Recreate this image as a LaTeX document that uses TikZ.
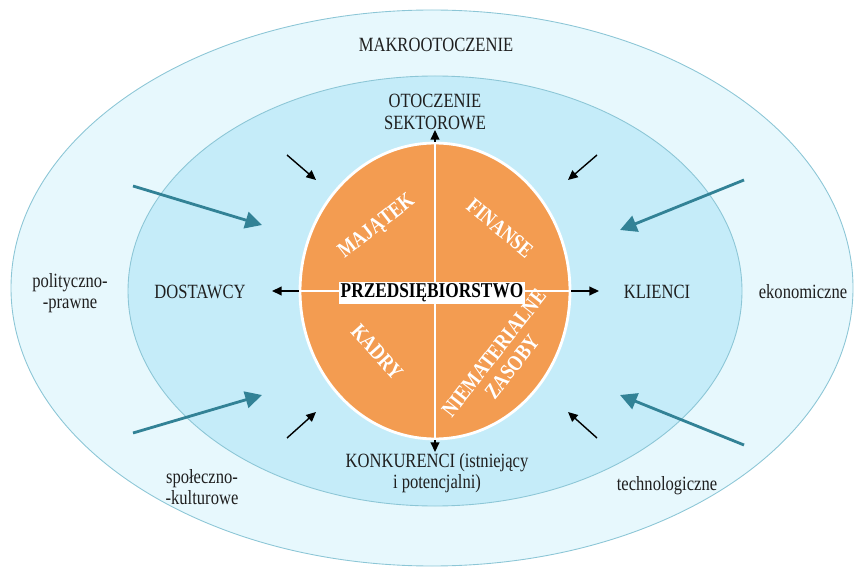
\documentclass[tikz,border=0pt]{standalone}
\usepackage{fontspec}
\setmainfont{Liberation Serif}[FakeStretch=0.82]
\usetikzlibrary{arrows.meta,shapes.geometric,positioning}

\definecolor{makro}{RGB}{231,248,253}
\definecolor{sektor}{RGB}{197,236,249}
\definecolor{rim}{RGB}{140,198,214}
\definecolor{firma}{RGB}{243,156,81}
\definecolor{nurt}{RGB}{50,130,150}

\begin{document}
\begin{tikzpicture}[x=0.02cm,y=-0.02cm,
  lbl/.style={font=\fontsize{11.5}{12}\selectfont,align=center,text=black!88},
  part/.style={font=\fontsize{12.5}{13}\selectfont\bfseries,text=white,align=center},
  small/.style={-{Triangle[length=5.5pt,width=5pt]},line width=0.8pt},
  big/.style={-{Triangle[length=9.5pt,width=9.5pt]},line width=1.6pt,draw=nurt,fill=nurt}]
  \useasboundingbox (0,0) rectangle (854,567);

  % rings
  \draw[fill=makro, draw=rim, line width=0.5pt] (432,288) ellipse [x radius=421, y radius=278];
  \draw[fill=sektor, draw=rim, line width=0.5pt] (435,291) ellipse [x radius=307, y radius=215];

  % macro forces
  \coordinate (pol0) at (133,186);  \coordinate (pol1) at (262,225);
  \coordinate (spo0) at (133,433);  \coordinate (spo1) at (262,395);
  \coordinate (eko0) at (744,180);  \coordinate (eko1) at (620,230);
  \coordinate (tec0) at (744,445);  \coordinate (tec1) at (620,395);
  \draw[big] (pol0) -- (pol1);
  \draw[big] (spo0) -- (spo1);
  \draw[big] (eko0) -- (eko1);
  \draw[big] (tec0) -- (tec1);

  % sector forces
  \coordinate (nw0) at (287,155);  \coordinate (nw1) at (316,180);
  \coordinate (ne0) at (597,155);  \coordinate (ne1) at (568,180);
  \coordinate (sw0) at (287,438);  \coordinate (sw1) at (316,412);
  \coordinate (se0) at (597,438);  \coordinate (se1) at (568,412);
  \draw[small] (nw0) -- (nw1);
  \draw[small] (ne0) -- (ne1);
  \draw[small] (sw0) -- (sw1);
  \draw[small] (se0) -- (se1);

  % enterprise
  \node[ellipse, fill=firma, draw=white, line width=1.6pt, inner sep=0,
        minimum width=5.4cm, minimum height=5.92cm] (firm) at (435,291) {};
  \draw[white, line width=1.2pt] (firm.north) -- (firm.south);
  \draw[white, line width=1.2pt] (firm.west) -- (firm.east);

  \coordinate (up)    at (435,130);
  \coordinate (down)  at (435,452);
  \coordinate (left)  at (272,291);
  \coordinate (right) at (599,291);
  \draw[small] (firm.north) -- (up);
  \draw[small] (firm.south) -- (down);
  \draw[small] (firm.west) -- (left);
  \draw[small] (firm.east) -- (right);

  \node[fill=white, inner sep=1.2pt, font=\fontsize{12}{13}\selectfont\bfseries]
    (przed) at (432,293) {PRZEDSIĘBIORSTWO};
  \node[part, rotate=38]  (maj) at (377,227) {MAJĄTEK};
  \node[part, rotate=-40] (fin) at (500,228) {FINANSE};
  \node[part, rotate=-48] (kad) at (377,352) {KADRY};
  \node[part, rotate=52]  (nie) at (503,360) {NIEMATERIALNE\\ZASOBY};

  % labels
  \node[lbl] (makro) at (436,45)  {MAKROOTOCZENIE};
  \node[lbl] (sekt)  at (435,112) {OTOCZENIE\\SEKTOROWE};
  \node[lbl] (dost)  at (200,292) {DOSTAWCY};
  \node[lbl] (klie)  at (657,292) {KLIENCI};
  \node[lbl] (konk)  at (437,473) {KONKURENCI (istniejący\\i potencjalni)};
  \node[lbl] (polit) at (70,293)  {polityczno-\\-prawne};
  \node[lbl] (ekon)  at (803,292) {ekonomiczne};
  \node[lbl] (spol)  at (202,487) {społeczno-\\-kulturowe};
  \node[lbl] (tech)  at (667,486) {technologiczne};
\end{tikzpicture}
\end{document}
